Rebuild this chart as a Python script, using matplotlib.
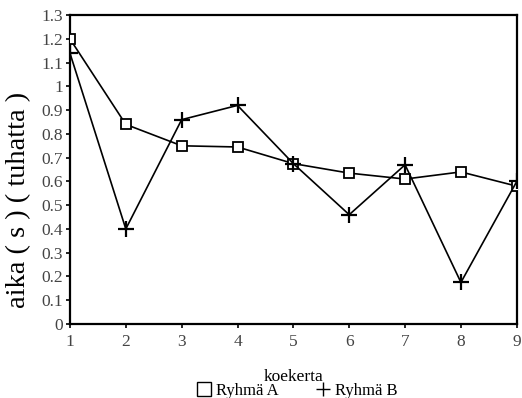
import numpy as np
import matplotlib
matplotlib.use('Agg')
import matplotlib.pyplot as plt
from matplotlib.lines import Line2D

# Data
koekerta = [1, 2, 3, 4, 5, 6, 7, 8, 9]
ryhma_a = [1.20, 0.84, 0.75, 0.745, 0.675, 0.635, 0.61, 0.64, 0.58]
ryhma_b = [1.14, 0.40, 0.86, 0.92, 0.675, 0.46, 0.67, 0.175, 0.60]
y_ticks = [0, 0.1, 0.2, 0.3, 0.4, 0.5, 0.6, 0.7, 0.8, 0.9, 1.0, 1.1, 1.2, 1.3]
y_labels = ['0', '0.1', '0.2', '0.3', '0.4', '0.5', '0.6', '0.7', '0.8', '0.9',
            '1', '1.1', '1.2', '1.3']

plt.rcParams['font.family'] = ['Liberation Serif', 'DejaVu Serif']

fig = plt.figure(figsize=(5.22, 3.98), dpi=100)
ax = fig.add_axes([0.134, 0.186, 0.856, 0.776])

# Lines
ax.plot(koekerta, ryhma_a, color='black', linewidth=1.2, marker='s', markersize=7.5,
        markerfacecolor='white', markeredgecolor='black', markeredgewidth=1.3, zorder=3)
ax.plot(koekerta, ryhma_b, color='black', linewidth=1.2, marker='+', markersize=11,
        markeredgewidth=1.6, zorder=3)

# Axes
ax.set_xlim(1, 9)
ax.set_ylim(0, 1.3)
ax.set_xticks(koekerta)
ax.set_yticks(y_ticks)
ax.set_yticklabels(y_labels)
ax.tick_params(axis='both', direction='out', length=3, width=1.2, labelsize=12.5,
               labelcolor='#444444', pad=2)
ax.tick_params(axis='x', pad=4)
for sp in ax.spines.values():
    sp.set_linewidth(1.6)

ax.set_ylabel('aika ( s ) ( tuhatta )', fontsize=20.5)
ax.yaxis.set_label_coords(-0.088, 0.40)
fig.text(0.562, 0.053, 'koekerta', ha='center', va='center', fontsize=12.5)

# Legend
handles = [
    Line2D([], [], linestyle='none', marker='s', markersize=10, markerfacecolor='white',
           markeredgecolor='black', markeredgewidth=1.0),
    Line2D([], [], linestyle='none', marker='+', markersize=10, color='black',
           markeredgewidth=1.0),
]
fig.legend(handles, ['Ryhmä A', 'Ryhmä B'], loc='center', bbox_to_anchor=(0.57, 0.018),
           ncol=2, frameon=False, fontsize=12, handlelength=0.8, handletextpad=0.3,
           columnspacing=2.3, borderpad=0)

fig.savefig('out.png', dpi=100)
